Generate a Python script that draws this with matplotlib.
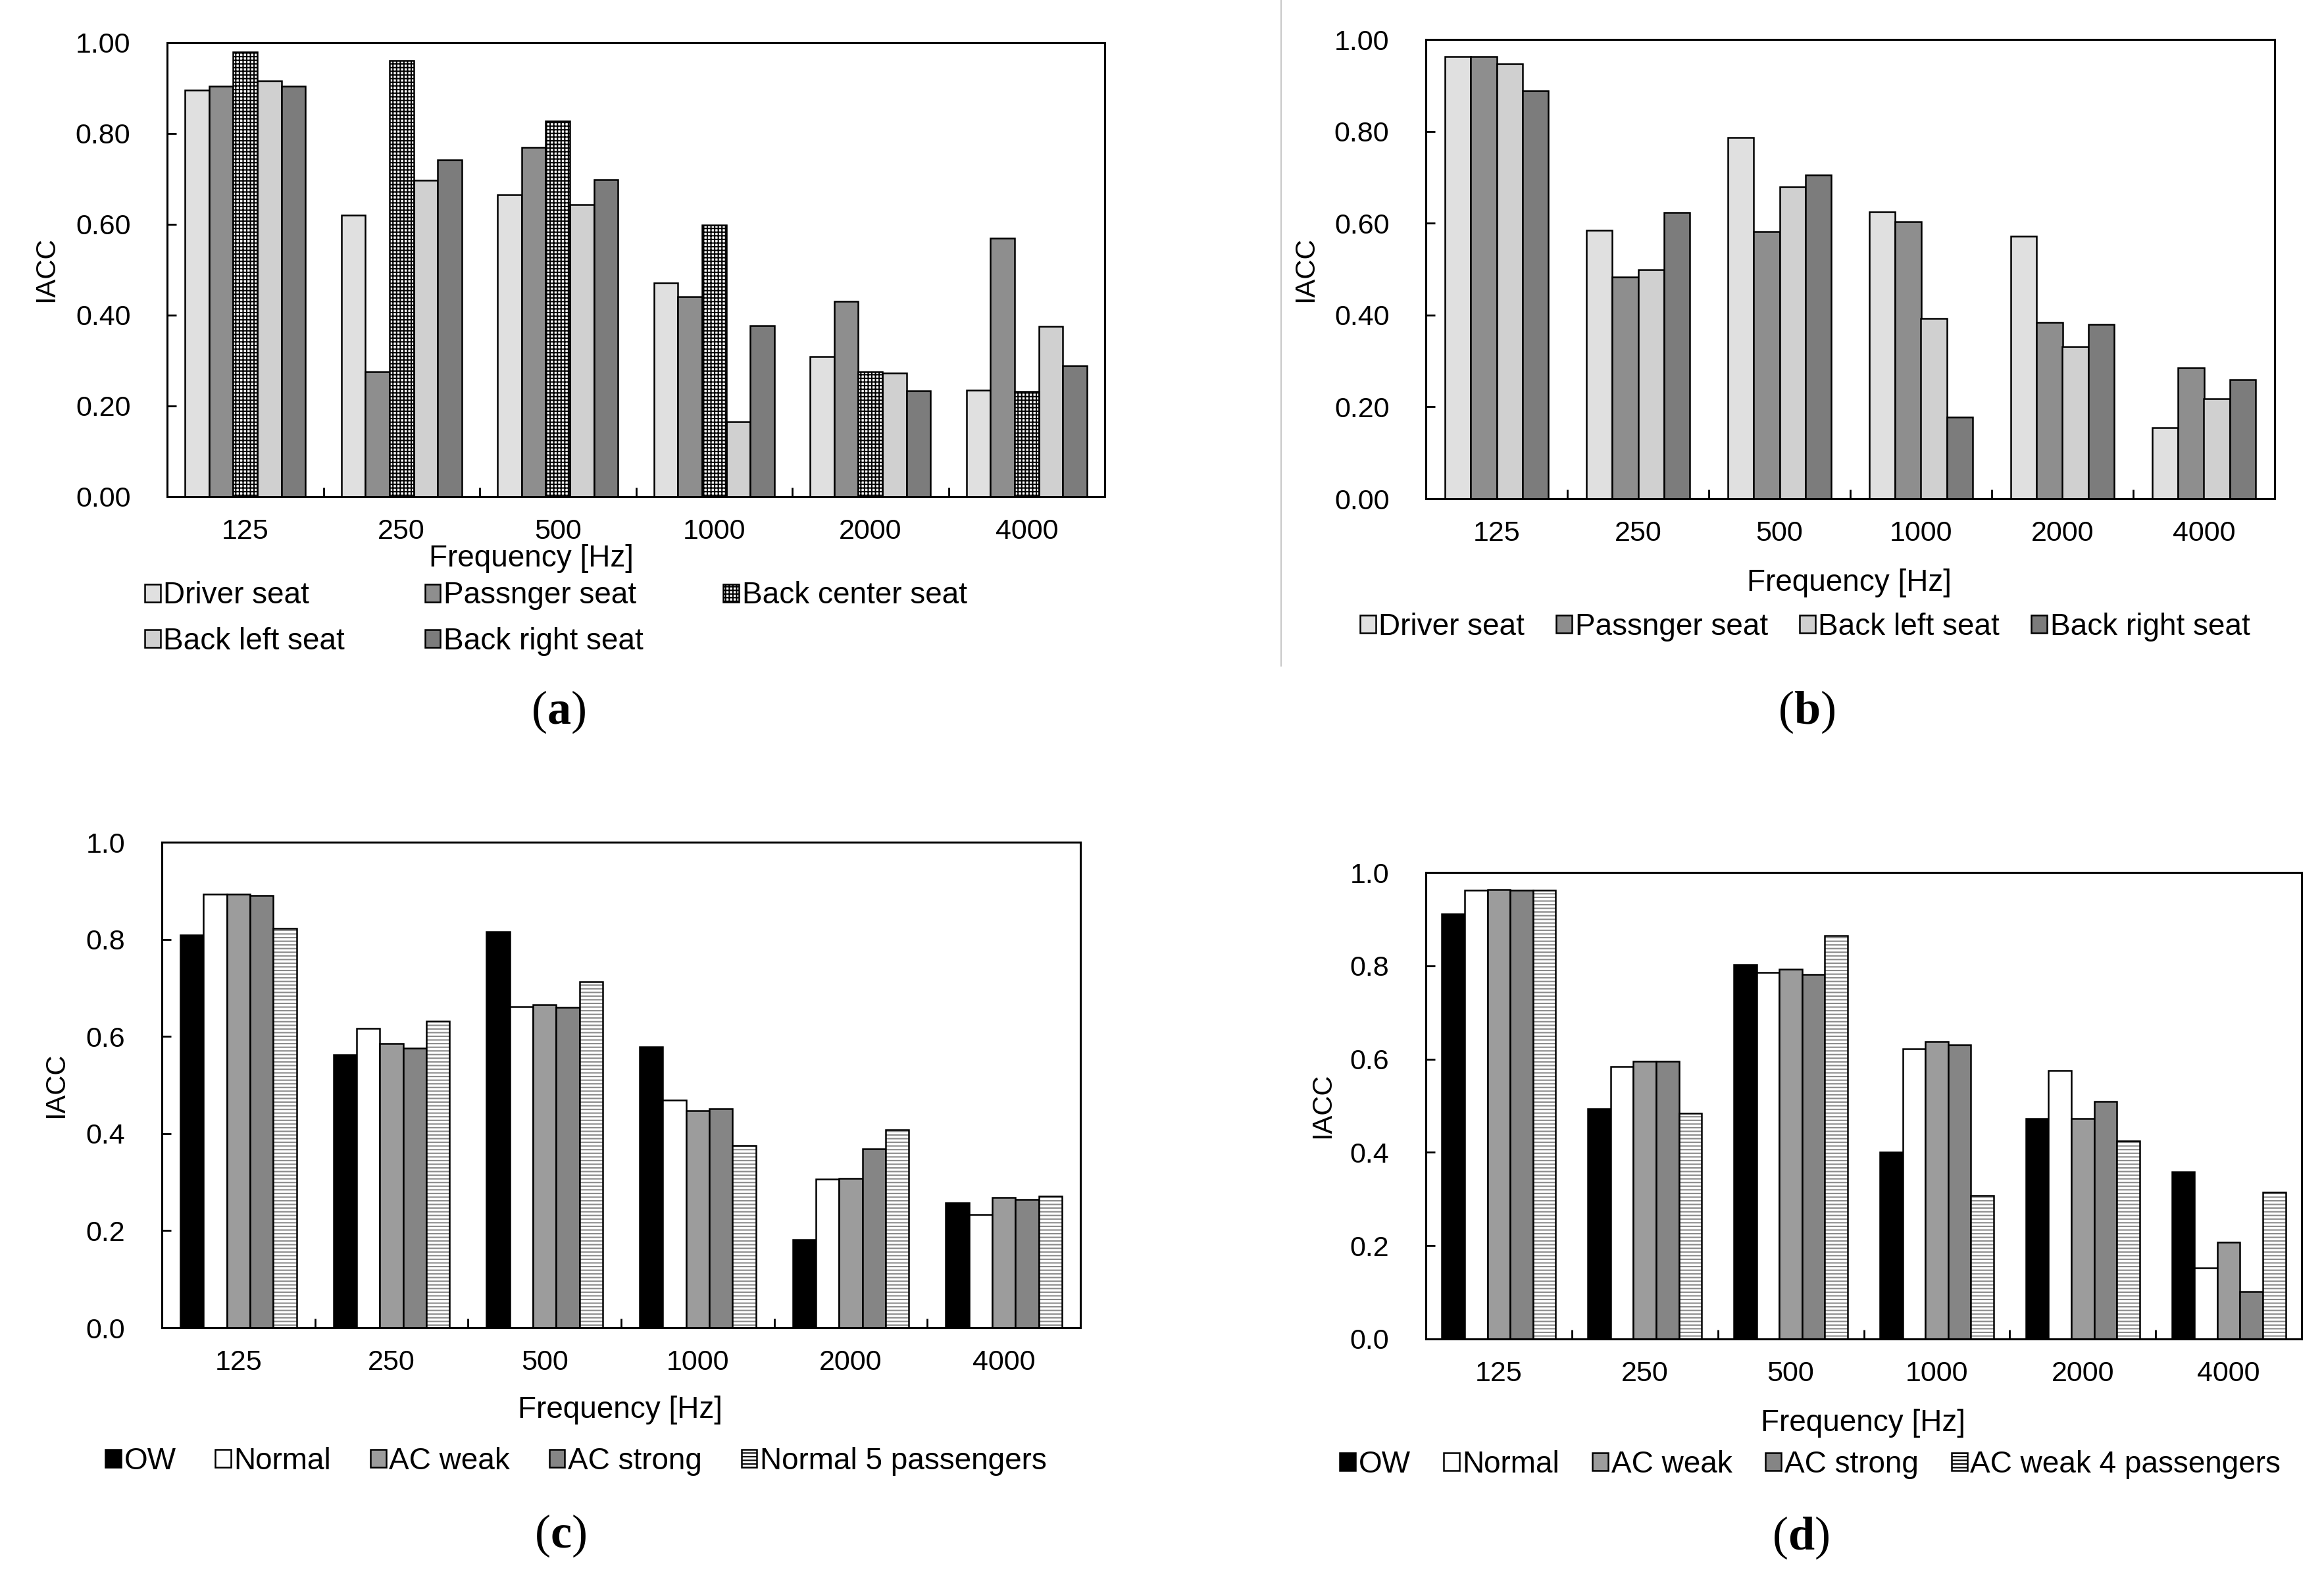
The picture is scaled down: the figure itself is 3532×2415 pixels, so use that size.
import matplotlib
matplotlib.use('Agg')
import matplotlib.pyplot as plt
from matplotlib.patches import Patch
from matplotlib.lines import Line2D
from matplotlib.ticker import FormatStrFormatter
import numpy as np

plt.rcParams['font.family'] = ['Liberation Sans', 'DejaVu Sans']
plt.rcParams['hatch.linewidth'] = 1.5
plt.rcParams['mathtext.fontset'] = 'custom'
plt.rcParams['mathtext.rm'] = 'Liberation Serif'
plt.rcParams['mathtext.bf'] = 'Liberation Serif:bold'

# ---------------- data ----------------
freqs = ['125', '250', '500', '1000', '2000', '4000']

# (a) five seats
seats_a = ['Driver seat', 'Passnger seat', 'Back center seat', 'Back left seat', 'Back right seat']
driver_a = [0.895, 0.620, 0.665, 0.471, 0.308, 0.235]
passenger_a = [0.905, 0.275, 0.770, 0.440, 0.430, 0.569]
back_center_a = [0.980, 0.961, 0.827, 0.598, 0.275, 0.232]
back_left_a = [0.916, 0.697, 0.643, 0.165, 0.272, 0.375]
back_right_a = [0.905, 0.742, 0.698, 0.377, 0.233, 0.289]

# (b) four seats
seats_b = ['Driver seat', 'Passnger seat', 'Back left seat', 'Back right seat']
driver_b = [0.963, 0.584, 0.786, 0.624, 0.571, 0.155]
passenger_b = [0.963, 0.483, 0.581, 0.603, 0.384, 0.285]
back_left_b = [0.947, 0.499, 0.679, 0.393, 0.331, 0.218]
back_right_b = [0.888, 0.623, 0.705, 0.178, 0.379, 0.259]

# (c) conditions
cond_c = ['OW', 'Normal', 'AC weak', 'AC strong', 'Normal 5 passengers']
ow_c = [0.809, 0.563, 0.816, 0.578, 0.181, 0.258]
normal_c = [0.893, 0.616, 0.661, 0.469, 0.306, 0.233]
ac_weak_c = [0.893, 0.585, 0.665, 0.447, 0.308, 0.268]
ac_strong_c = [0.890, 0.576, 0.660, 0.451, 0.369, 0.264]
normal5_c = [0.822, 0.632, 0.713, 0.376, 0.408, 0.271]

# (d) conditions
cond_d = ['OW', 'Normal', 'AC weak', 'AC strong', 'AC weak 4 passengers']
ow_d = [0.911, 0.493, 0.803, 0.400, 0.473, 0.358]
normal_d = [0.962, 0.584, 0.785, 0.622, 0.575, 0.153]
ac_weak_d = [0.964, 0.595, 0.792, 0.637, 0.473, 0.208]
ac_strong_d = [0.962, 0.595, 0.781, 0.630, 0.509, 0.101]
ac_weak4_d = [0.962, 0.484, 0.865, 0.307, 0.424, 0.314]

# ---------------- styles ----------------
STYLE = {
    'Driver seat': dict(fc='#e0e0e0'),
    'Passnger seat': dict(fc='#8e8e8e'),
    'Back center seat': dict(fc='white', hatch='+++', hc='black'),
    'Back left seat': dict(fc='#d0d0d0'),
    'Back right seat': dict(fc='#7c7c7c'),
    'OW': dict(fc='black'),
    'Normal': dict(fc='white'),
    'AC weak': dict(fc='#9c9c9c'),
    'AC strong': dict(fc='#858585'),
    'Normal 5 passengers': dict(fc='white', hatch='---', hc='#8a8a8a'),
    'AC weak 4 passengers': dict(fc='white', hatch='---', hc='#8a8a8a'),
}

W, H = 3532, 2415
FS = 33      # legend / axis labels
FS_TICK = 31
fig = plt.figure(figsize=(W / 100, H / 100), dpi=100)


def rect(box):
    l, t, r, b = box
    return [l / W, 1 - b / H, (r - l) / W, (b - t) / H]


def draw_panel(box, names, series, fmt, frac, legend_xy, ncol, colsp,
               xlab_xy, ylab_xy, tag, tag_xy, order=None):
    ax = fig.add_axes(rect(box))
    n = len(series)
    w = frac / n
    x0 = np.arange(len(freqs)) + 0.5
    for k, (name, vals) in enumerate(zip(names, series)):
        st = STYLE[name]
        x = x0 + (k - (n - 1) / 2) * w
        if 'hatch' in st:
            ax.bar(x, vals, w, color=st['fc'], edgecolor=st['hc'], hatch=st['hatch'], linewidth=0, zorder=2)
            ax.bar(x, vals, w, fill=False, edgecolor='black', linewidth=1.8, zorder=3)
        else:
            ax.bar(x, vals, w, color=st['fc'], edgecolor='black', linewidth=1.8, zorder=2)

    ax.set_xlim(0, len(freqs))
    ax.set_ylim(0, 1)
    ax.set_xticks(x0)
    ax.set_xticklabels(freqs)
    ax.set_xticks(np.arange(len(freqs) + 1), minor=True)
    ax.set_yticks(np.arange(0, 1.01, 0.2))
    ax.yaxis.set_major_formatter(FormatStrFormatter(fmt))
    ax.tick_params(axis='x', which='major', length=0, pad=24, labelsize=FS_TICK)
    ax.tick_params(axis='x', which='minor', direction='in', length=10, width=2)
    ax.tick_params(axis='y', direction='in', length=10, width=2, pad=40, labelsize=FS_TICK)
    for sp in ax.spines.values():
        sp.set_linewidth(2.2)

    l, t, r, b = box
    ax.set_xlabel('Frequency [Hz]', fontsize=FS, va='center')
    ax.xaxis.set_label_coords((xlab_xy[0] - l) / (r - l), (b - xlab_xy[1]) / (b - t))
    ax.set_ylabel('IACC', fontsize=30, va='center')
    ax.yaxis.set_label_coords((ylab_xy[0] - l) / (r - l), (b - ylab_xy[1]) / (b - t))

    handles = []
    for name in names:
        st = STYLE[name]
        handles.append(Patch(facecolor=st['fc'], edgecolor='black', hatch=st.get('hatch'), linewidth=1.8))
    labels = list(names)
    if order is not None:
        handles = [handles[i] for i in order]
        labels = [labels[i] for i in order]
    ax.legend(handles, labels, loc='center left',
              bbox_to_anchor=(legend_xy[0] / W, 1 - legend_xy[1] / H),
              bbox_transform=fig.transFigure, ncol=ncol, frameon=False,
              fontsize=FS, handlelength=0.52, handleheight=0.52,
              handletextpad=0.1, columnspacing=colsp, borderpad=0,
              borderaxespad=0, labelspacing=0.55)

    fig.text(tag_xy[0] / W, 1 - tag_xy[1] / H, r'($\mathbf{%s}$)' % tag,
             fontsize=52, family='Liberation Serif', ha='center', va='center')
    return ax


draw_panel((254, 65, 1679, 755), seats_a,
           [driver_a, passenger_a, back_center_a, back_left_a, back_right_a],
           '%.2f', 0.77, (220, 940), 3, 2.65, (807, 849), (70, 409),
           'a', (849, 1082), order=[0, 3, 1, 4, 2])

draw_panel((2167, 60, 3457, 758), seats_b,
           [driver_b, passenger_b, back_left_b, back_right_b],
           '%.2f', 0.73, (2067, 953), 4, 1.05, (2810, 886), (1984, 409),
           'b', (2746, 1082))

draw_panel((246, 1280, 1642, 2018), cond_c,
           [ow_c, normal_c, ac_weak_c, ac_strong_c, normal5_c],
           '%.1f', 0.76, (160, 2221), 5, 1.3, (942, 2143), (85, 1649),
           'c', (852, 2334))

draw_panel((2167, 1326, 3498, 2035), cond_d,
           [ow_d, normal_d, ac_weak_d, ac_strong_d, ac_weak4_d],
           '%.1f', 0.78, (2036, 2226), 5, 1.1, (2831, 2163), (2010, 1680),
           'd', (2737, 2337))

# thin divider between the two upper panels
fig.add_artist(Line2D([1947 / W, 1947 / W], [1, 1 - 1012 / H],
                      transform=fig.transFigure, color='#c8c8c8', lw=1.5))

fig.savefig('out.png', dpi=100, facecolor='white')
